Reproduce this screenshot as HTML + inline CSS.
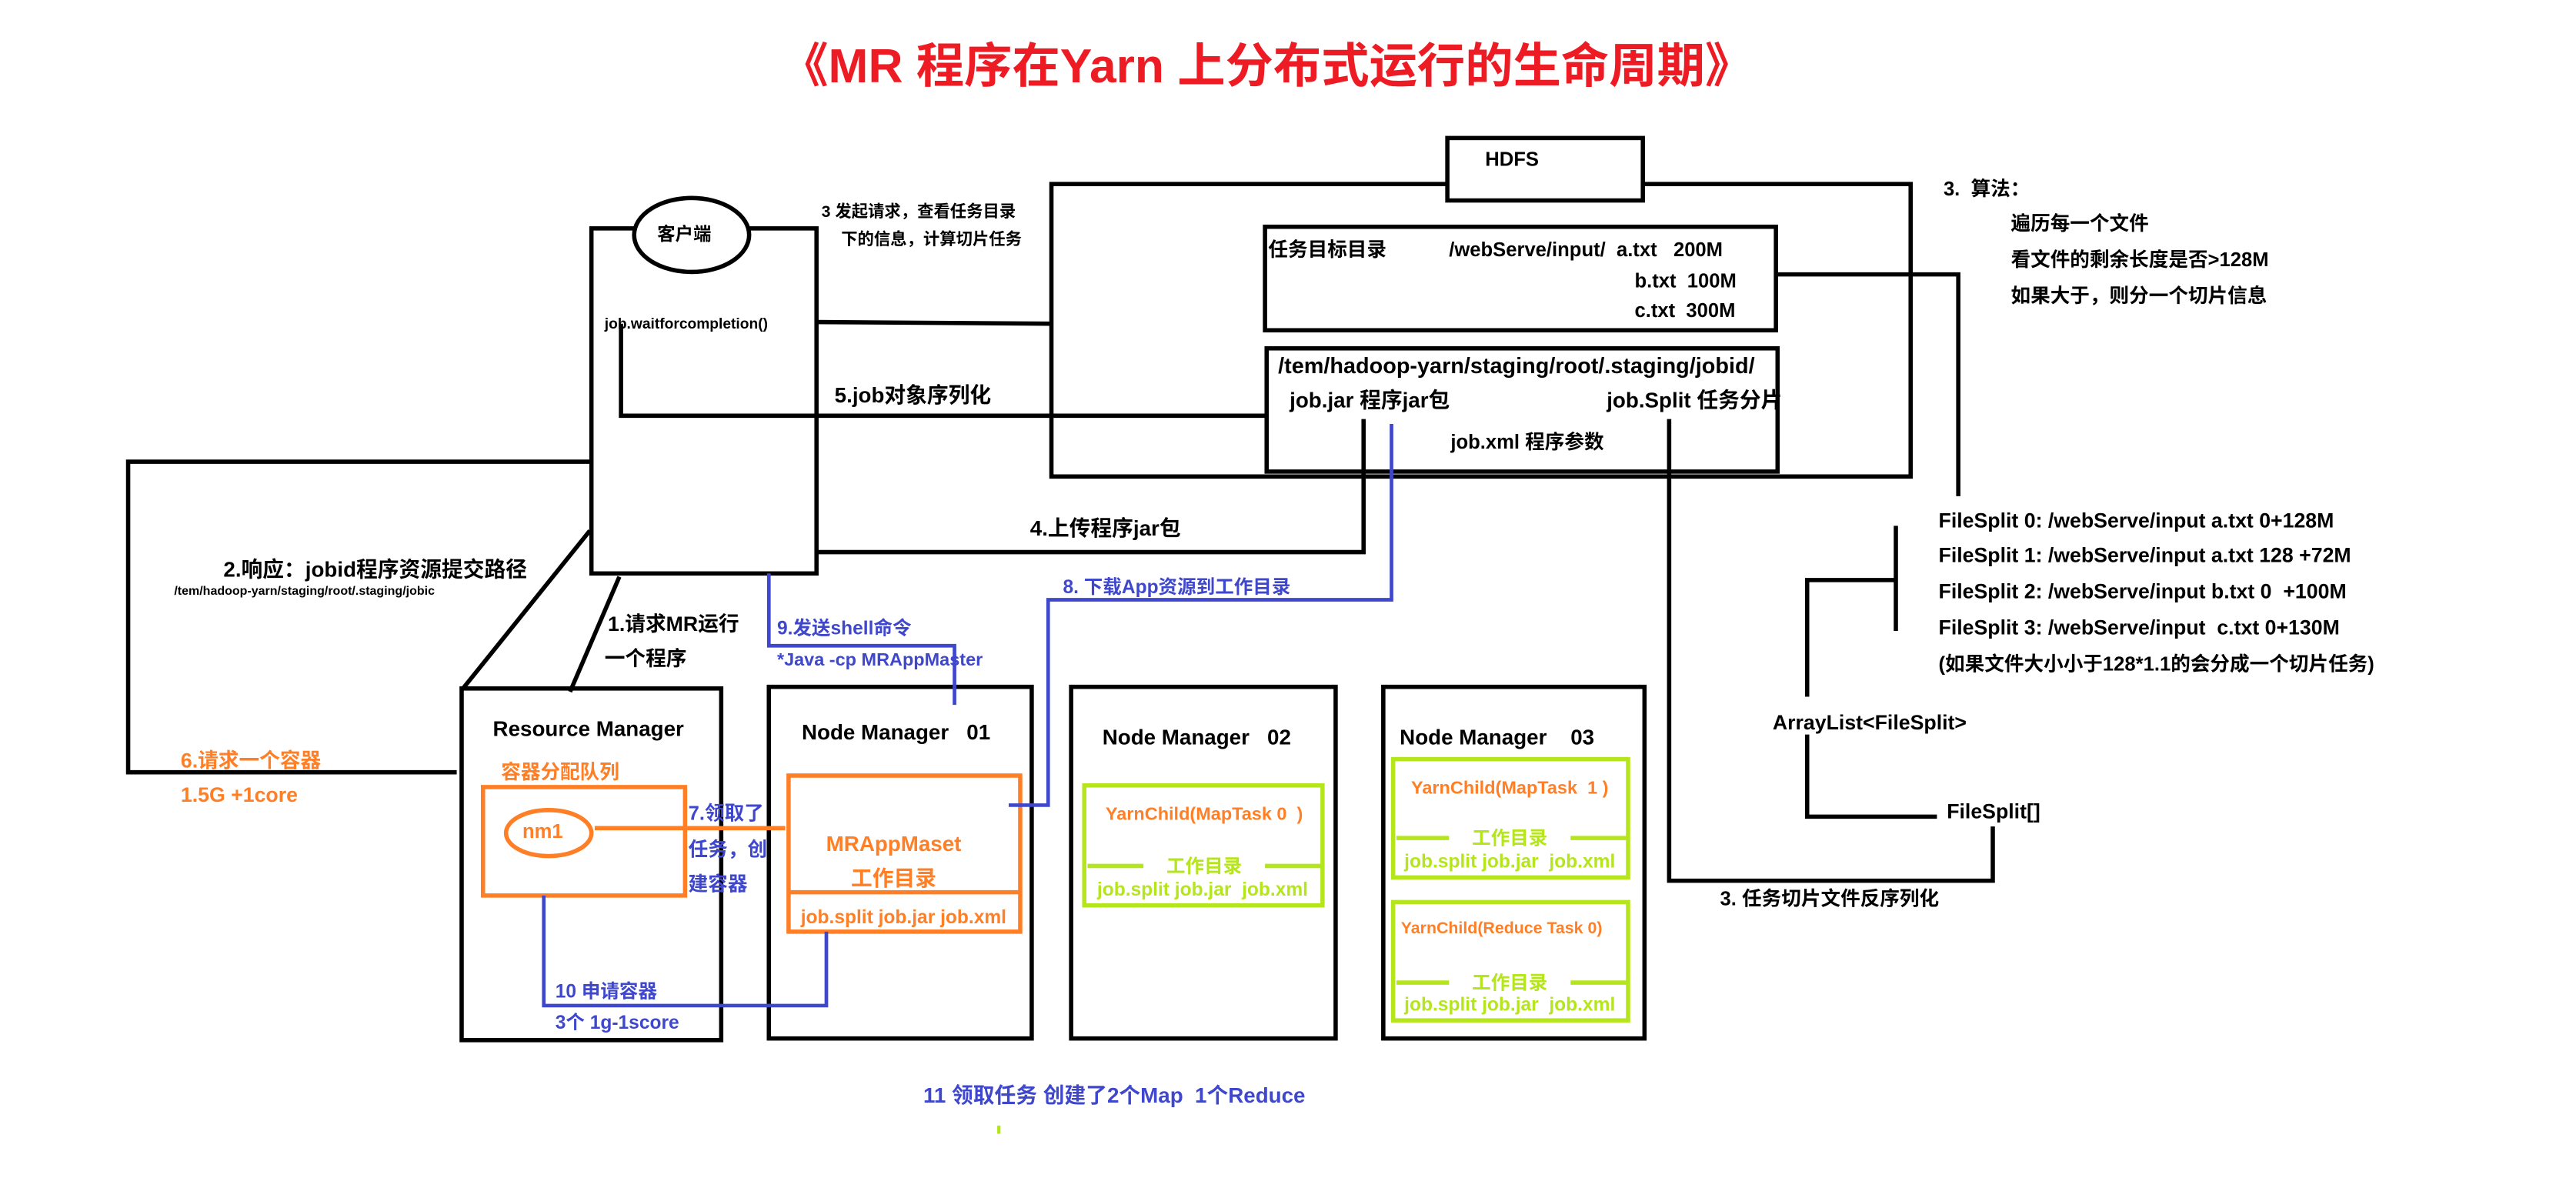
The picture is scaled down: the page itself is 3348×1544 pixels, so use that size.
<!DOCTYPE html>
<html><head><meta charset="utf-8"><style>
html,body{margin:0;padding:0;background:#fff;}
svg{display:block;}
text{font-family:"Liberation Sans","Noto Sans CJK SC",sans-serif;font-weight:bold;white-space:pre;}
</style></head><body>
<svg width="3348" height="1544" viewBox="0 0 1568 723" preserveAspectRatio="none" xmlns="http://www.w3.org/2000/svg" xml:space="preserve">
<rect width="1568" height="723" fill="#fff"/>
<text x="475" y="50" font-size="29" fill="#ed1c24" textLength="592" lengthAdjust="spacingAndGlyphs">《MR 程序在Yarn 上分布式运行的生命周期》</text>

<g fill="none" stroke="#000" stroke-width="2.6">
<polyline points="881,112 640,112 640,290 1163,290 1163,112 1000,112"/>
<rect x="881" y="84" width="119" height="38"/>
<rect x="770" y="138" width="311" height="63"/>
<rect x="771" y="212" width="311" height="75"/>
<polyline points="1082,167 1192,167 1192,302"/>
<line x1="1154" y1="320" x2="1154" y2="384"/>
<polyline points="1154,353 1100,353 1100,424"/>
<polyline points="1100,447 1100,497 1179,497"/>
<polyline points="1213,503 1213,536 1016,536 1016,255"/>
<rect x="360" y="139" width="137" height="210"/>
<line x1="497" y1="196" x2="640" y2="197"/>
<polyline points="378,197 378,253 771,253"/>
<polyline points="497,336 830,336 830,255"/>
<polyline points="360,281 78,281 78,470 278,470"/>
<line x1="359" y1="323" x2="281" y2="420"/>
<line x1="377" y1="351" x2="347" y2="421"/>
<rect x="281" y="419" width="158" height="214"/>
<rect x="468" y="418" width="160" height="214"/>
<rect x="652" y="418" width="161" height="214"/>
<rect x="842" y="418" width="159" height="214"/>
</g>
<ellipse cx="421" cy="143" rx="35" ry="22.5" fill="#fff" stroke="#000" stroke-width="2.6"/>

<g fill="none" stroke="#ff7f27" stroke-width="2.6">
<rect x="294" y="479" width="123" height="66"/>
<ellipse cx="334" cy="507" rx="26" ry="14"/>
<line x1="362" y1="504" x2="478" y2="504"/>
<rect x="480" y="472" width="141" height="95"/>
<line x1="480" y1="543" x2="621" y2="543"/>
</g>
<g fill="none" stroke="#b5e61d" stroke-width="2.6">
<rect x="660" y="478" width="145" height="73"/>
<line x1="662" y1="527" x2="696" y2="527"/><line x1="770" y1="527" x2="804" y2="527"/>
<rect x="848" y="462" width="143" height="72"/>
<line x1="850" y1="510" x2="882" y2="510"/><line x1="956" y1="510" x2="990" y2="510"/>
<rect x="848" y="549" width="143" height="72"/>
<line x1="850" y1="598" x2="882" y2="598"/><line x1="956" y1="598" x2="990" y2="598"/>
</g>
<rect x="607" y="685" width="2" height="5" fill="#b5e61d"/>
<g fill="none" stroke="#3f48cc" stroke-width="2.2">
<polyline points="468,349 468,393 581,393 581,429"/>
<polyline points="847,258 847,365 638,365 638,490 614,490"/>
<polyline points="331,545 331,612 503,612 503,567"/>
</g>

<g fill="#000">
<text x="904" y="101" font-size="12">HDFS</text>
<text x="400" y="146" font-size="11">客户端</text>
<text x="368" y="200" font-size="9">job.waitforcompletion()</text>
<text x="500" y="132" font-size="10">3 发起请求，查看任务目录</text>
<text x="512" y="149" font-size="10">下的信息，计算切片任务</text>
<text x="772" y="156" font-size="12">任务目标目录</text>
<text x="882" y="156" font-size="12">/webServe/input/  a.txt   200M</text>
<text x="995" y="175" font-size="12">b.txt  100M</text>
<text x="995" y="193" font-size="12">c.txt  300M</text>
<text x="778" y="227" font-size="13.5">/tem/hadoop-yarn/staging/root/.staging/jobid/</text>
<text x="785" y="248" font-size="13">job.jar 程序jar包</text>
<text x="978" y="248" font-size="13">job.Split 任务分片</text>
<text x="883" y="273" font-size="12">job.xml 程序参数</text>
<text x="1183" y="119" font-size="12">3.  算法：</text>
<text x="1224" y="140" font-size="12">遍历每一个文件</text>
<text x="1224" y="162" font-size="12">看文件的剩余长度是否&gt;128M</text>
<text x="1224" y="184" font-size="12">如果大于，则分一个切片信息</text>
<text x="1180" y="321" font-size="12.5">FileSplit 0: /webServe/input a.txt 0+128M</text>
<text x="1180" y="342" font-size="12.5">FileSplit 1: /webServe/input a.txt 128 +72M</text>
<text x="1180" y="364" font-size="12.5">FileSplit 2: /webServe/input b.txt 0  +100M</text>
<text x="1180" y="386" font-size="12.5">FileSplit 3: /webServe/input  c.txt 0+130M</text>
<text x="1180" y="408" font-size="12">(如果文件大小小于128*1.1的会分成一个切片任务)</text>
<text x="1079" y="444" font-size="12.5">ArrayList&lt;FileSplit&gt;</text>
<text x="1185" y="498" font-size="12.5">FileSplit[]</text>
<text x="1047" y="551" font-size="12">3. 任务切片文件反序列化</text>
<text x="508" y="245" font-size="13">5.job对象序列化</text>
<text x="627" y="326" font-size="13">4.上传程序jar包</text>
<text x="136" y="351" font-size="13">2.响应：jobid程序资源提交路径</text>
<text x="106" y="362" font-size="7.5">/tem/hadoop-yarn/staging/root/.staging/jobic</text>
<text x="370" y="384" font-size="12.5">1.请求MR运行</text>
<text x="368" y="405" font-size="12.5">一个程序</text>
<text x="300" y="448" font-size="13">Resource Manager</text>
<text x="488" y="450" font-size="13">Node Manager   01</text>
<text x="671" y="453" font-size="13">Node Manager   02</text>
<text x="852" y="453" font-size="13">Node Manager    03</text>
</g>
<g fill="#ff7f27">
<text x="110" y="467" font-size="12.5">6.请求一个容器</text>
<text x="110" y="488" font-size="12.5">1.5G +1core</text>
<text x="305" y="474" font-size="12">容器分配队列</text>
<text x="318" y="510" font-size="12">nm1</text>
<text x="544" y="518" font-size="13" text-anchor="middle">MRAppMaset</text>
<text x="544" y="539" font-size="13" text-anchor="middle">工作目录</text>
<text x="550" y="562" font-size="11.5" text-anchor="middle">job.split job.jar job.xml</text>
<text x="733" y="499" font-size="11" text-anchor="middle">YarnChild(MapTask 0  )</text>
<text x="919" y="483" font-size="11" text-anchor="middle">YarnChild(MapTask  1 )</text>
<text x="914" y="568" font-size="10" text-anchor="middle">YarnChild(Reduce Task 0)</text>
</g>
<g fill="#b5e61d">
<text x="733" y="531" font-size="11.5" text-anchor="middle">工作目录</text>
<text x="732" y="545" font-size="11.5" text-anchor="middle">job.split job.jar  job.xml</text>
<text x="919" y="514" font-size="11.5" text-anchor="middle">工作目录</text>
<text x="919" y="528" font-size="11.5" text-anchor="middle">job.split job.jar  job.xml</text>
<text x="919" y="602" font-size="11.5" text-anchor="middle">工作目录</text>
<text x="919" y="615" font-size="11.5" text-anchor="middle">job.split job.jar  job.xml</text>
</g>
<g fill="#3f48cc">
<text x="473" y="386" font-size="11.5">9.发送shell命令</text>
<text x="473" y="405" font-size="11">*Java -cp MRAppMaster</text>
<text x="647" y="361" font-size="11.5">8. 下载App资源到工作目录</text>
<text x="419" y="499" font-size="12">7.领取了</text>
<text x="419" y="521" font-size="12">任务，创</text>
<text x="419" y="542" font-size="12">建容器</text>
<text x="338" y="607" font-size="11.5">10 申请容器</text>
<text x="338" y="626" font-size="11.5">3个 1g-1score</text>
<text x="562" y="671" font-size="13">11 领取任务 创建了2个Map  1个Reduce</text>
</g>
</svg>
</body></html>
